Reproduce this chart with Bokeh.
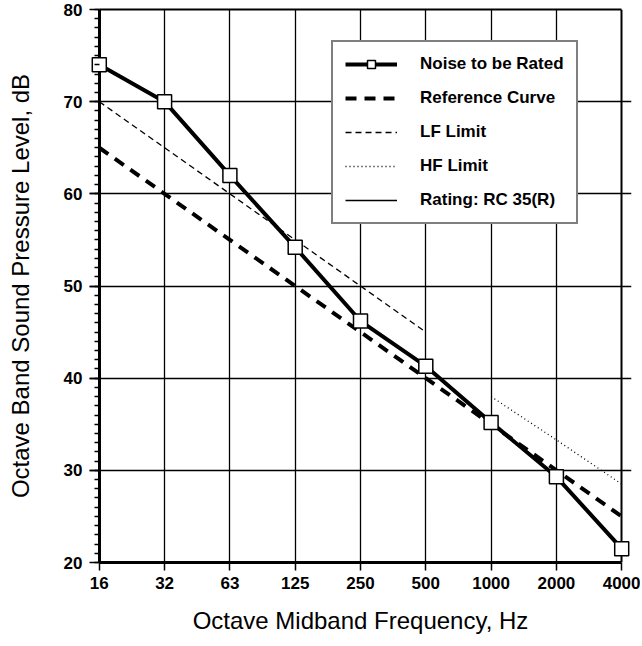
from bokeh.plotting import figure
from bokeh.models import (Range1d, FixedTicker, SingleIntervalTicker, Legend, LegendItem, Grid,
                          LinearAxis)
from bokeh.embed import file_html
from bokeh.resources import INLINE

# ---- data ----
freq_labels = ["16", "32", "63", "125", "250", "500", "1000", "2000", "4000"]
noise_db = [74, 70, 62, 54.2, 46.2, 41.3, 35.2, 29.3, 21.5]
reference_db = [65, 60, 55, 50, 45, 40, 35, 30, 25]
lf_labels = ["16", "32", "63", "125", "250", "500"]
lf_limit_db = [70, 65, 60, 55, 50, 45]
hf_labels = ["1000", "2000", "4000"]
hf_limit_db = [38, 33.3, 28.5]
rating_label = "1000"
rating_db = 35
y_ticks = [20, 30, 40, 50, 60, 70, 80]

idx = {f: i for i, f in enumerate(freq_labels)}
x_all = [idx[f] for f in freq_labels]
x_lf = [idx[f] for f in lf_labels]
x_hf = [idx[f] for f in hf_labels]
x_first, x_last = x_all[0], x_all[-1]
PAD = 0.15  # small extra room so the end markers are not clipped by the frame

FONT = "Liberation Sans"

p = figure(width=640, height=640, output_backend="svg", toolbar_location=None,
           x_range=Range1d(x_first - PAD, x_last + PAD), y_range=Range1d(y_ticks[0], y_ticks[-1]),
           min_border_left=89, min_border_right=9, min_border_top=9, min_border_bottom=78)
p.background_fill_color = "white"
p.border_fill_color = "white"
p.outline_line_color = None

# x axis (bottom)
p.xaxis.ticker = FixedTicker(ticks=x_all)
p.xaxis.major_label_overrides = {i: f for i, f in enumerate(freq_labels)}
p.xaxis.bounds = (x_first, x_last)
# y axis sits at the frame edge; its ticks reach inward to the spine at 16 Hz
p.yaxis.ticker = SingleIntervalTicker(interval=10, num_minor_ticks=10)
for ax in (p.xaxis[0], p.yaxis[0]):
    ax.axis_line_color = "black"
    ax.axis_line_width = 3
    ax.major_tick_line_color = "black"
    ax.major_tick_line_width = 1.5
    ax.major_label_text_font = FONT
    ax.major_label_text_font_style = "bold"
    ax.major_label_text_font_size = "17px"
    ax.major_label_text_color = "black"
    ax.axis_label_text_font = FONT
    ax.axis_label_text_font_style = "normal"
    ax.axis_label_text_font_size = "24px"
    ax.axis_label_text_color = "black"
p.xaxis.major_tick_in = 0
p.xaxis.major_tick_out = 8
p.xaxis.major_label_standoff = 6
p.xaxis.minor_tick_line_color = None
p.xaxis.axis_label = "Octave Midband Frequency, Hz"
p.xaxis.axis_label_standoff = 15

p.yaxis.axis_line_color = None
p.yaxis.major_tick_out = 0
p.yaxis.major_tick_in = 10
p.yaxis.major_label_standoff = 7
p.yaxis.minor_tick_out = -5
p.yaxis.minor_tick_in = 10
p.yaxis.minor_tick_line_color = "black"
p.yaxis.minor_tick_line_width = 1.5
p.yaxis.axis_label = "Octave Band Sound Pressure Level, dB"
p.yaxis.axis_label_standoff = 27

# top border as an unlabelled axis
top_axis = LinearAxis(ticker=FixedTicker(ticks=[]), bounds=(x_first, x_last),
                      axis_line_color="black", axis_line_width=2,
                      major_tick_line_color=None, minor_tick_line_color=None,
                      major_label_text_font_size="0px")
p.add_layout(top_axis, "above")

p.xgrid.ticker = FixedTicker(ticks=x_all[1:-1])
p.ygrid.ticker = FixedTicker(ticks=y_ticks[1:-1])
p.ygrid.bounds = (x_first, x_last)
for g in (p.xgrid[0], p.ygrid[0]):
    g.grid_line_color = "black"
    g.grid_line_width = 1.3
    g.grid_line_alpha = 1.0

# spine at 16 Hz and right border at 4000 Hz
p.add_layout(Grid(dimension=0, ticker=FixedTicker(ticks=[x_first]),
                  grid_line_color="black", grid_line_width=3))
p.add_layout(Grid(dimension=0, ticker=FixedTicker(ticks=[x_last]),
                  grid_line_color="black", grid_line_width=2))

# series
r_ref = p.line(x_all, reference_db, line_color="black", line_width=4, line_dash="11 8")
r_lf = p.line(x_lf, lf_limit_db, line_color="black", line_width=1.3, line_dash="6 4")
r_hf = p.line(x_hf, hf_limit_db, line_color="black", line_width=1.3, line_dash="1 3")
r_noise_l = p.line(x_all, noise_db, line_color="black", line_width=4)
r_noise_m = p.scatter(x_all, noise_db, marker="square", size=14, fill_color="white",
                      line_color="black", line_width=1.5)
# rating: single-point line (only its legend glyph is visible)
r_rating = p.line([idx[rating_label]], [rating_db], line_color="black", line_width=1.5)

legend = Legend(items=[
    LegendItem(label="Noise to be Rated", renderers=[r_noise_l, r_noise_m]),
    LegendItem(label="Reference Curve", renderers=[r_ref]),
    LegendItem(label="LF Limit", renderers=[r_lf]),
    LegendItem(label="HF Limit", renderers=[r_hf]),
    LegendItem(label="Rating: RC 35(R)", renderers=[r_rating]),
], location=(242, 338))
legend.border_line_color = "black"
legend.border_line_width = 2
legend.background_fill_color = "white"
legend.background_fill_alpha = 1
legend.label_text_font = FONT
legend.label_text_font_style = "bold"
legend.label_text_font_size = "17px"
legend.label_text_color = "black"
legend.glyph_width = 52
legend.glyph_height = 20
legend.label_height = 20
legend.label_width = 132
legend.label_standoff = 23
legend.spacing = 14
legend.padding = 12
legend.margin = 0
p.add_layout(legend, "center")

open("out.html", "w").write(file_html(p, INLINE))
